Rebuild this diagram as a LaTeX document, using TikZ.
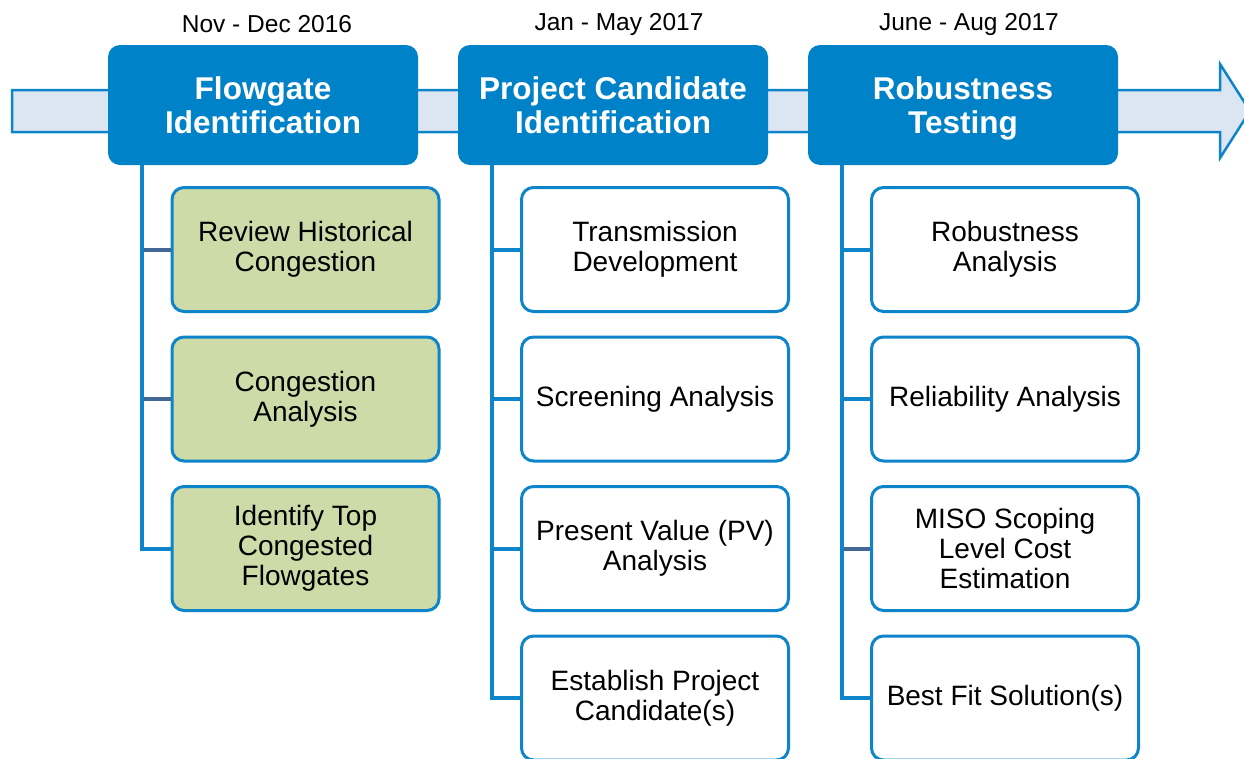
\documentclass[tikz,border=0pt]{standalone}
\usepackage{fontspec}
\setmainfont{Liberation Sans}
\definecolor{hdrblue}{RGB}{0,130,201}
\definecolor{lineblue}{RGB}{14,132,202}
\definecolor{slate}{RGB}{68,104,150}
\definecolor{greenfill}{RGB}{204,219,167}
\definecolor{arrowfill}{RGB}{220,230,242}
\tikzset{
  header/.style={fill=hdrblue, rounded corners=12pt, minimum width=310pt, minimum height=120pt,
    text=white, align=center, font=\fontsize{31.5}{33.5}\selectfont\bfseries, inner sep=0pt,
    text depth=0pt},
  datelbl/.style={font=\fontsize{24.5}{27}\selectfont, inner sep=0pt},
  childbox/.style={draw=lineblue, line width=3pt, fill=white, rounded corners=12pt,
    minimum width=267pt, minimum height=124pt, align=center,
    font=\fontsize{28}{30}\selectfont, inner sep=0pt},
  greenbox/.style={childbox, fill=greenfill},
  vline/.style={draw=lineblue, line width=4pt},
  stubblue/.style={draw=lineblue, line width=4pt},
  stubslate/.style={draw=slate, line width=4pt},
  timeline/.style={draw=lineblue, line width=2.5pt, fill=arrowfill}
}
\begin{document}
\begin{tikzpicture}[x=1pt,y=-1pt]
\useasboundingbox (0,0) rectangle (1244,758);
% timeline arrow
\draw[timeline] (12,90) -- (1220,90) -- (1220,64) -- (1250,111) -- (1220,158) -- (1220,132) -- (12,132) -- cycle;

% headers
\node[header] (h1) at (263,105) {Flowgate\\Identification};
\node[header] (h2) at (613,105) {Project Candidate\\Identification};
\node[header] (h3) at (963,105) {Robustness\\Testing};

% dates
\node[datelbl] (d1) at (267,24) {Nov - Dec 2016};
\node[datelbl] (d2) at (619,24) {Jan - May 2017};
\node[datelbl] (d3) at (969,24) {June - Aug 2017};

% column 1
\node[greenbox] (c11) at (305.5,249.5) {Review Historical\\Congestion};
\node[greenbox] (c12) at (305.5,399) {Congestion\\Analysis};
\node[greenbox] (c13) at (305.5,548.5) {Identify Top\\Congested\\Flowgates};

% column 2
\node[childbox] (c21) at (655,249.5) {Transmission\\Development};
\node[childbox] (c22) at (655,399) {Screening Analysis};
\node[childbox] (c23) at (655,548.5) {Present Value (PV)\\Analysis};
\node[childbox] (c24) at (655,698) {Establish Project\\Candidate(s)};

% column 3
\node[childbox] (c31) at (1005,249.5) {Robustness\\Analysis};
\node[childbox] (c32) at (1005,399) {Reliability Analysis};
\node[childbox] (c33) at (1005,548.5) {MISO Scoping\\Level Cost\\Estimation};
\node[childbox] (c34) at (1005,698) {Best Fit Solution(s)};

% connectors
\coordinate (v1) at (142,165);
\coordinate (v2) at (492,165);
\coordinate (v3) at (842,165);

\draw[stubslate] (v1 |- c11.west) -- (c11.west);
\draw[stubslate] (v1 |- c12.west) -- (c12.west);
\draw[vline] (v1) |- (c13.west);

\draw[stubblue] (v2 |- c21.west) -- (c21.west);
\draw[stubblue] (v2 |- c22.west) -- (c22.west);
\draw[stubblue] (v2 |- c23.west) -- (c23.west);
\draw[vline] (v2) |- (c24.west);

\draw[stubblue] (v3 |- c31.west) -- (c31.west);
\draw[stubblue] (v3 |- c32.west) -- (c32.west);
\draw[stubslate] (v3 |- c33.west) -- (c33.west);
\draw[vline] (v3) |- (c34.west);
\end{tikzpicture}
\end{document}
